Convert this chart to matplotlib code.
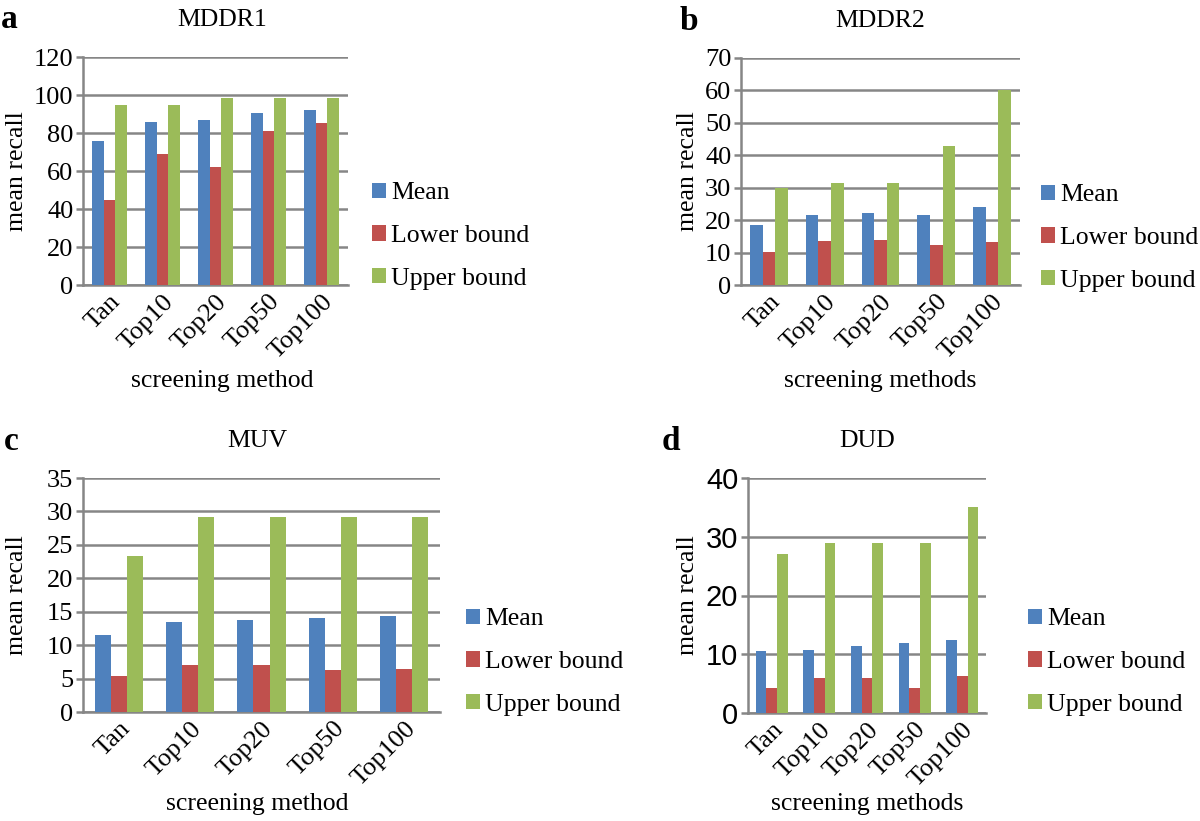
import numpy as np
import matplotlib
matplotlib.use("Agg")
import matplotlib.pyplot as plt

plt.rcParams['font.family'] = ['Liberation Serif', 'DejaVu Serif']

# data
methods = ['Tan', 'Top10', 'Top20', 'Top50', 'Top100']
series = ['Mean', 'Lower bound', 'Upper bound']
colors = ['#4F81BD', '#C0504D', '#9BBB59']

mddr1_mean = [75.8, 85.6, 86.6, 90.5, 92.1]
mddr1_low = [44.5, 68.9, 61.9, 80.8, 85.1]
mddr1_up = [94.6, 94.6, 98.4, 98.6, 98.6]

mddr2_mean = [18.4, 21.5, 22.3, 21.6, 24.2]
mddr2_low = [10.3, 13.7, 14.0, 12.2, 13.4]
mddr2_up = [29.9, 31.6, 31.6, 42.8, 60.2]

muv_mean = [11.55, 13.5, 13.75, 14.0, 14.3]
muv_low = [5.4, 7.05, 7.05, 6.35, 6.4]
muv_up = [23.4, 29.2, 29.2, 29.2, 29.2]

dud_mean = [10.6, 10.8, 11.4, 11.9, 12.4]
dud_low = [4.3, 5.9, 5.9, 4.3, 6.3]
dud_up = [27.1, 29.0, 29.0, 29.0, 35.0]

W, H = 1200, 821
fig = plt.figure(figsize=(W / 100, H / 100), dpi=100)
GRID = '#868686'


def px_axes(l, r, t, b):
    return fig.add_axes([l / W, 1 - b / H, (r - l) / W, (b - t) / H])


def panel(box, vals, ymax, step, letter, title, xlab, title_x, letter_x, ylab_x,
          leg_x, leg_y, xlab_y, ytick_font=None):
    l, r, t, b = box
    ax = px_axes(l, r, t, b)
    x = np.arange(len(methods))
    w = 0.225
    for i, (v, c, s) in enumerate(zip(vals, colors, series)):
        ax.bar(x + (i - 1) * w, v, w, color=c, label=s, zorder=3)
    ax.set_xlim(-0.5, len(methods) - 0.5)
    ax.set_ylim(0, ymax)
    ax.set_yticks(np.arange(0, ymax + 0.1, step))
    ax.yaxis.grid(True, color=GRID, linewidth=1.8, zorder=0)
    for s in ['top', 'right']:
        ax.spines[s].set_visible(False)
    for s in ['left', 'bottom']:
        ax.spines[s].set_color(GRID)
        ax.spines[s].set_linewidth(1.8)
    ax.tick_params(axis='y', length=5, width=1.8, color=GRID, labelsize=19, pad=2)
    ax.tick_params(axis='x', length=0, labelsize=19, pad=4)
    if ytick_font:
        for lb in ax.get_yticklabels():
            lb.set_family(ytick_font)
            lb.set_fontsize(21)
    ax.set_xticks(x)
    ax.set_xticklabels(methods, rotation=45, ha='right', rotation_mode='anchor')
    ax.legend(loc='center left', bbox_to_anchor=(leg_x / W, 1 - leg_y / H),
              bbox_transform=fig.transFigure, frameon=False, fontsize=18.5,
              handlelength=0.55, handleheight=0.55, handletextpad=0.2,
              labelspacing=0.8, borderpad=0, borderaxespad=0)
    fig.text(title_x / W, 1 - (t - 37) / H, title, ha='center', va='center', fontsize=18.5)
    fig.text(letter_x / W, 1 - (t - 37) / H, letter, ha='left', va='center',
             fontsize=24, fontweight='bold')
    fig.text(ylab_x / W, 1 - (t + b) / 2 / H, 'mean recall', rotation=90,
             ha='center', va='center', fontsize=18.5)
    fig.text(title_x / W, 1 - xlab_y / H, xlab, ha='center', va='center', fontsize=18.5)
    return ax


panel((83, 348, 57, 285), [mddr1_mean, mddr1_low, mddr1_up], 120, 20, 'a', 'MDDR1',
      'screening method', 222, 1, 17, 372, 236, 381)
panel((741, 1020, 58, 285), [mddr2_mean, mddr2_low, mddr2_up], 70, 10, 'b', 'MDDR2',
      'screening methods', 880, 680, 688, 1041, 238, 381)
panel((83, 440, 478, 712), [muv_mean, muv_low, muv_up], 35, 5, 'c', 'MUV',
      'screening method', 257, 4, 17, 466, 662, 804)
panel((748, 986, 478, 713), [dud_mean, dud_low, dud_up], 40, 10, 'd', 'DUD',
      'screening methods', 867, 662, 688, 1028, 662, 804,
      ytick_font='Liberation Sans')

fig.savefig('out.png', dpi=100)
